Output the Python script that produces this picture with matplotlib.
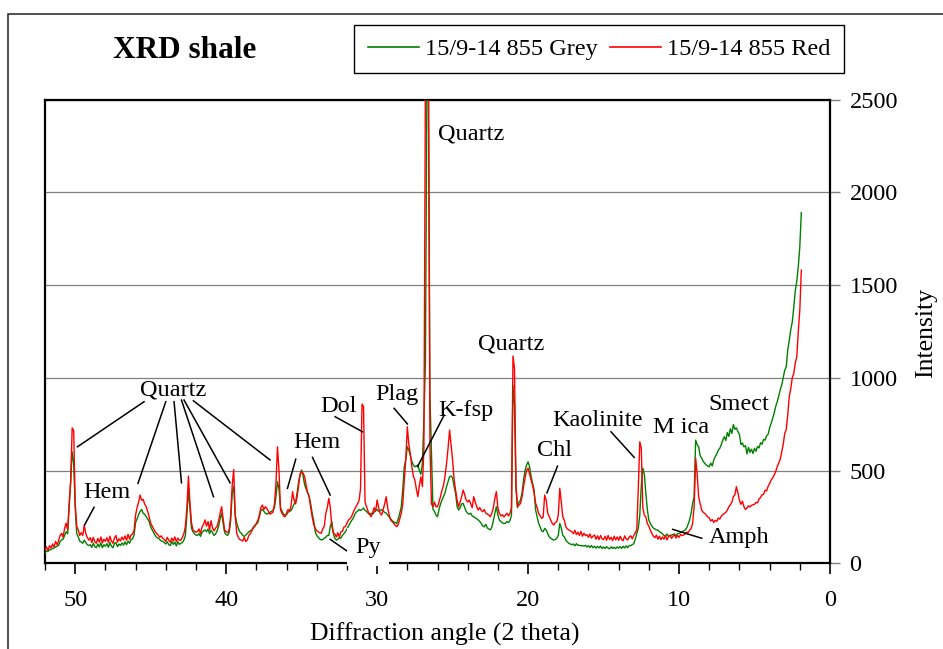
import matplotlib
matplotlib.use('Agg')
import matplotlib.pyplot as plt
from matplotlib.ticker import MultipleLocator
from matplotlib.patches import Rectangle
import numpy as np

plt.rcParams['font.family'] = ['Liberation Serif', 'DejaVu Serif']

# ---------------- data ----------------
scan_start = 52.0   # 2-theta of first sample
scan_step = 0.1     # scan step (degrees), samples run towards low angle

# 15/9-14 855 Red, one row per degree (52.0 ... 51.1, 51.0 ... 50.1, ...)
red_sample = [
    72, 88, 70, 95, 82, 104, 88, 118, 100, 122,
    150, 162, 140, 190, 216, 180, 320, 440, 730, 715,
    325, 200, 180, 150, 165, 150, 206, 160, 140, 125,
    138, 112, 140, 116, 108, 134, 114, 142, 110, 130,
    118, 138, 112, 146, 120, 108, 136, 150, 114, 132,
    120, 142, 126, 148, 124, 156, 130, 152, 158, 178,
    260, 300, 330, 368, 340, 345, 320, 305, 280, 250,
    216, 200, 185, 170, 160, 152, 140, 148, 135, 128,
    118, 140, 124, 114, 136, 120, 142, 116, 136, 124,
    124, 140, 160, 200, 300, 470, 330, 220, 180, 172,
    168, 170, 185, 160, 195, 210, 234, 200, 225, 180,
    230, 190, 175, 190, 200, 230, 270, 305, 240, 180,
    170, 165, 180, 260, 420, 505, 260, 162, 140, 128,
    125, 120, 140, 118, 125, 150, 160, 175, 190, 200,
    216, 230, 260, 300, 314, 290, 305, 295, 280, 265,
    270, 275, 320, 432, 628, 500, 287, 270, 255, 251,
    270, 290, 280, 310, 386, 340, 320, 359, 420, 480,
    494, 485, 467, 420, 380, 359, 300, 250, 210, 189,
    175, 170, 165, 162, 185, 200, 269, 300, 350, 300,
    200, 165, 158, 142, 165, 140, 170, 172, 195, 198,
    215, 233, 240, 251, 270, 290, 305, 320, 337, 400,
    858, 845, 330, 305, 280, 265, 251, 270, 300, 280,
    341, 300, 270, 260, 290, 320, 359, 300, 260, 233,
    225, 215, 205, 197, 210, 240, 269, 320, 449, 560,
    736, 640, 592, 520, 470, 449, 400, 359, 420, 466,
    413, 620, 2600, 2600, 2600, 628, 320, 305, 330, 305,
    305, 330, 360, 395, 420, 470, 539, 620, 718, 640,
    557, 450, 395, 340, 305, 330, 360, 395, 370, 340,
    330, 341, 322, 300, 359, 330, 305, 287, 300, 285,
    278, 290, 270, 265, 260, 251, 270, 300, 350, 386,
    300, 269, 255, 262, 250, 260, 270, 255, 269, 300,
    1117, 1050, 420, 305, 315, 322, 360, 413, 460, 500,
    513, 480, 449, 420, 377, 323, 300, 269, 255, 242,
    250, 368, 340, 270, 251, 233, 215, 206, 220, 224,
    260, 404, 330, 250, 233, 197, 185, 180, 175, 170,
    160, 178, 155, 168, 150, 172, 146, 162, 150, 154,
    140, 158, 136, 146, 152, 130, 148, 128, 150, 132,
    128, 146, 124, 150, 128, 140, 122, 146, 126, 142,
    124, 146, 128, 122, 148, 132, 126, 142, 148, 132,
    150, 165, 180, 400, 655, 620, 300, 260, 250, 215,
    200, 178, 161, 146, 138, 152, 130, 146, 128, 142,
    130, 150, 126, 144, 152, 134, 146, 154, 136, 150,
    140, 155, 150, 152, 158, 168, 166, 178, 188, 215,
    305, 566, 480, 359, 320, 287, 275, 269, 260, 250,
    245, 228, 236, 220, 232, 226, 244, 238, 255, 262,
    269, 275, 287, 305, 315, 330, 359, 370, 413, 380,
    340, 318, 335, 305, 290, 298, 310, 304, 312, 316,
    318, 328, 326, 346, 355, 370, 372, 395, 390, 415,
    430, 449, 460, 475, 494, 520, 540, 560, 600, 640,
    700, 720, 800, 898, 940, 1000, 1024, 1080, 1113, 1250,
    1365, 1580,
]

# 15/9-14 855 Grey
grey_sample = [
    55, 66, 64, 72, 74, 80, 82, 88, 92, 96,
    118, 126, 130, 150, 170, 160, 300, 440, 600, 540,
    300, 160, 143, 120, 115, 108, 125, 112, 100, 96,
    100, 86, 108, 90, 84, 104, 88, 110, 84, 100,
    92, 106, 86, 112, 92, 84, 108, 112, 90, 104,
    96, 110, 98, 116, 100, 120, 108, 128, 132, 152,
    220, 240, 262, 280, 290, 270, 265, 251, 240, 225,
    197, 180, 165, 150, 140, 135, 128, 120, 118, 112,
    104, 116, 100, 96, 118, 102, 114, 94, 116, 102,
    108, 112, 125, 150, 260, 395, 300, 190, 170, 160,
    152, 150, 160, 145, 165, 175, 180, 170, 185, 160,
    178, 165, 150, 158, 175, 200, 240, 270, 215, 165,
    155, 150, 165, 230, 380, 413, 260, 217, 190, 170,
    162, 150, 145, 152, 160, 170, 175, 180, 195, 205,
    210, 220, 250, 285, 290, 280, 270, 265, 270, 275,
    280, 285, 300, 360, 440, 400, 300, 280, 265, 260,
    262, 275, 280, 285, 300, 320, 330, 380, 440, 480,
    503, 470, 422, 400, 380, 360, 320, 270, 230, 170,
    150, 140, 130, 126, 128, 135, 140, 150, 150, 200,
    224, 160, 135, 125, 130, 138, 135, 150, 160, 170,
    185, 200, 215, 230, 240, 260, 275, 280, 290, 285,
    290, 298, 285, 280, 270, 262, 270, 265, 275, 285,
    290, 280, 285, 290, 280, 275, 270, 260, 250, 240,
    230, 222, 220, 215, 240, 270, 305, 400, 520, 560,
    628, 610, 580, 550, 530, 520, 525, 530, 500, 480,
    540, 780, 1080, 2600, 2600, 900, 600, 290, 280, 260,
    251, 290, 320, 341, 360, 380, 413, 440, 467, 470,
    460, 413, 377, 305, 287, 300, 320, 323, 300, 280,
    270, 265, 270, 255, 251, 245, 240, 233, 225, 215,
    200, 197, 210, 190, 185, 180, 195, 230, 270, 305,
    260, 233, 225, 218, 215, 215, 225, 220, 230, 260,
    960, 850, 400, 300, 330, 341, 380, 449, 500, 530,
    547, 520, 470, 430, 395, 287, 250, 215, 195, 175,
    170, 188, 180, 160, 143, 135, 130, 125, 128, 135,
    150, 215, 190, 150, 143, 125, 115, 108, 104, 100,
    104, 94, 106, 96, 98, 94, 96, 92, 97, 88,
    95, 85, 96, 84, 92, 82, 91, 83, 93, 80,
    88, 80, 90, 82, 78, 89, 80, 87, 79, 88,
    82, 90, 80, 92, 83, 94, 84, 96, 95, 101,
    105, 130, 160, 190, 260, 420, 513, 480, 377, 290,
    233, 215, 200, 190, 185, 180, 179, 170, 165, 160,
    150, 146, 158, 146, 148, 152, 155, 158, 148, 160,
    161, 165, 170, 175, 179, 190, 210, 233, 270, 323,
    359, 664, 640, 628, 580, 566, 550, 539, 530, 525,
    520, 540, 525, 557, 575, 590, 610, 620, 640, 664,
    682, 662, 705, 684, 725, 700, 748, 722, 730, 710,
    695, 640, 648, 628, 634, 590, 625, 598, 615, 592,
    620, 604, 630, 622, 650, 642, 668, 664, 688, 695,
    730, 754, 780, 810, 844, 870, 900, 934, 960, 1000,
    1040, 1059, 1149, 1200, 1260, 1300, 1380, 1470, 1520, 1600,
    1706, 1890,
]

series_names = ['15/9-14 855 Grey', '15/9-14 855 Red']

x_major_ticks = [50, 40, 30, 20, 10, 0]
y_ticks = [0, 500, 1000, 1500, 2000, 2500]

# mineral labels: text, anchor (2-theta, intensity)
mineral_labels = ['Quartz', 'Hem', 'Hem', 'Dol', 'Plag', 'K-fsp', 'Quartz',
                  'Quartz', 'Chl', 'Kaolinite', 'M ica', 'Smect', 'Amph']
label_x = [43.52, 47.87, 34.0, 32.57, 28.67, 24.14, 23.77,
           21.12, 18.22, 15.37, 9.87, 6.05, 6.03]
label_y = [902, 350, 620, 818, 880, 794, 2282,
           1150, 578, 740, 704, 826, 108]

# leader lines (2-theta, intensity) start -> end
leader_x0 = [45.44, 44.0, 43.45, 42.96, 42.79, 42.17, 48.75, 35.39, 34.28,
             32.78, 28.87, 25.56, 33.11, 18.05, 14.51, 10.42]
leader_y0 = [871, 871, 871, 880, 880, 876, 302, 561, 571,
             790, 835, 799, 129, 524, 709, 183]
leader_x1 = [49.85, 45.84, 42.96, 40.84, 39.74, 37.09, 49.37, 35.94, 33.11,
             30.97, 27.99, 27.32, 31.92, 18.75, 12.97, 8.5]
leader_y1 = [628, 431, 434, 359, 434, 557, 208, 404, 368,
             709, 751, 521, 62, 380, 571, 135]

# ---------------- figure ----------------
W, H = 943, 649
fig = plt.figure(figsize=(W / 100, H / 100), dpi=100)
fig.patch.set_facecolor('white')
fig.add_artist(Rectangle((8 / W, -0.1), 1.5, 1.1 - 14 / H, transform=fig.transFigure,
                         fill=False, ec='#202020', lw=1.1, clip_on=False))

ax = fig.add_axes([45 / W, 1 - 563.3 / H, 785 / W, 463.8 / H])

angle = np.round(scan_start - scan_step * np.arange(len(red_sample)), 1)

l_grey, = ax.plot(angle, grey_sample, color='#008000', lw=1.0, zorder=3)
l_red, = ax.plot(angle, red_sample, color='#ff0000', lw=1.0, zorder=4)

ax.set_xlim(52, 0)
ax.set_ylim(0, 2500)
ax.set_xticks(x_major_ticks)
ax.xaxis.set_minor_locator(MultipleLocator(2))
ax.set_yticks(y_ticks)
ax.yaxis.tick_right()
ax.tick_params(axis='x', which='major', direction='out', length=8, width=1.2,
               pad=11, labelsize=17.5, color='black')
ax.tick_params(axis='x', which='minor', direction='out', length=5, width=1.0, color='black')
ax.tick_params(axis='y', direction='out', length=7, width=1.0, color='#808080',
               pad=7, labelsize=17.5)
ax.grid(axis='y', color='#808080', lw=0.9)
ax.set_axisbelow(True)
for s in ax.spines.values():
    s.set_linewidth(1.6)
    s.set_color('black')

# mineral labels
for t, x, y in zip(mineral_labels, label_x, label_y):
    ax.text(x, y, t, fontsize=17.5, ha='center', va='baseline', zorder=6, clip_on=False)
for x0, y0, x1, y1 in zip(leader_x0, leader_y0, leader_x1, leader_y1):
    ax.plot([x0, x1], [y0, y1], color='black', lw=1.1, zorder=6, clip_on=False)
ax.text(30.6, 56, 'Py', fontsize=17.5, ha='center', va='baseline', zorder=7,
        clip_on=False, bbox=dict(boxstyle='square,pad=0.35', fc='white', ec='none'))

# title, axis titles
fig.text(184.7 / W, 1 - 58.3 / H, 'XRD shale', fontsize=22.5, fontweight='bold',
         ha='center', va='baseline')
fig.text(444.5 / W, 1 - 641 / H, 'Diffraction angle (2 theta)', fontsize=18.5,
         ha='center', va='baseline')
fig.text(926 / W, 1 - 333 / H, 'Intensity', fontsize=18.5, rotation=90,
         ha='center', va='center')

leg = fig.legend([l_grey, l_red], series_names, loc='center',
                 bbox_to_anchor=(599 / W, 1 - 49 / H), ncol=2, fontsize=17.5,
                 frameon=True, fancybox=False, edgecolor='black', framealpha=1,
                 handlelength=2.1, handletextpad=0.25, columnspacing=0.5,
                 borderpad=0.55)
leg.get_frame().set_linewidth(1.0)
for h in leg.get_lines():
    h.set_linewidth(1.2)

fig.savefig('out.png', dpi=100)
